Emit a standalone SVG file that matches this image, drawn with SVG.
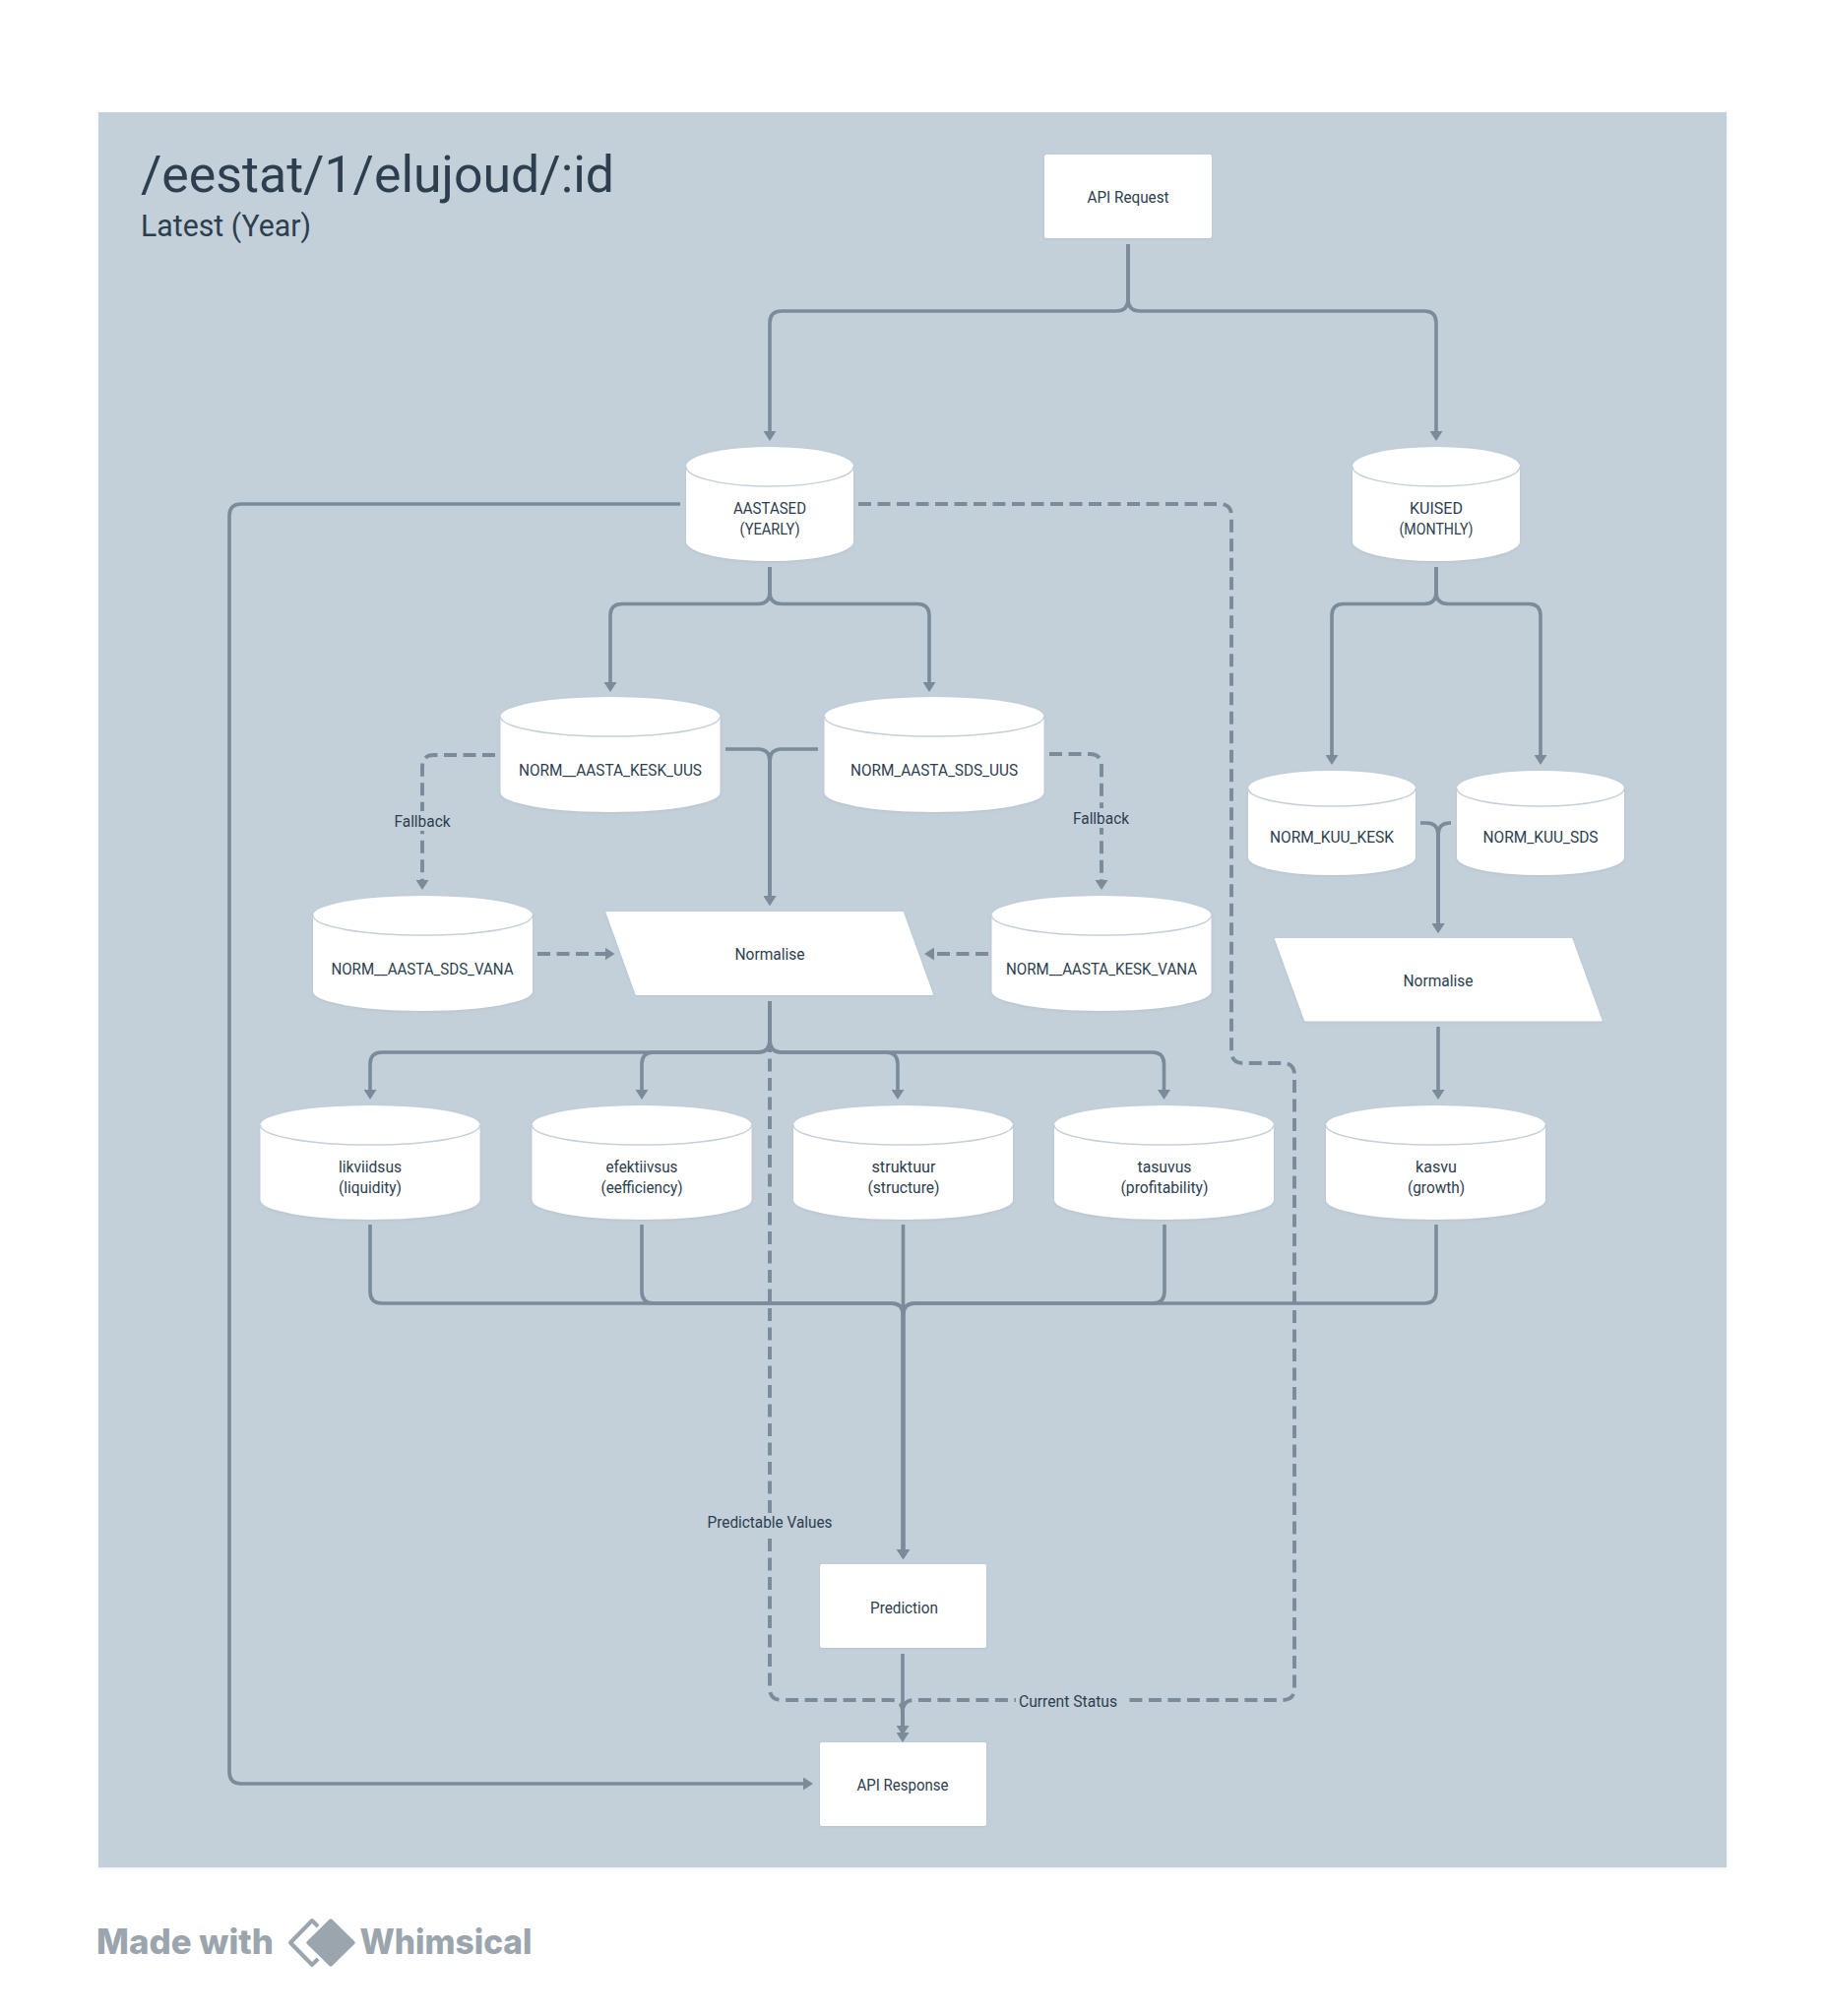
<svg xmlns="http://www.w3.org/2000/svg" width="1854" height="2048" viewBox="0 0 1854 2048">
<style>
text{font-family:Roboto,"Liberation Sans",sans-serif;fill:#2d3e4f;text-anchor:middle;font-size:16px}
.body{fill:#fff}
.seam{fill:none;stroke:#c3d0db;stroke-width:1.5}
.c{fill:none;stroke:#7c8b9a;stroke-width:3.6}
.d{stroke-dasharray:13 6.5;stroke-width:3.9}
.a{marker-end:url(#arr)}
.lb{fill:#c3d0da}
.wm{fill:#9aa5ae;font-family:Inter,"Liberation Sans",sans-serif;font-weight:800;font-size:35px;text-anchor:start}
</style>
<defs>
<filter id="s" x="-5%" y="-5%" width="110%" height="115%"><feDropShadow dx="0" dy="1" stdDeviation="1.5" flood-color="#5b6b7a" flood-opacity="0.14"/></filter>
<marker id="arr" markerUnits="userSpaceOnUse" markerWidth="11" markerHeight="13" refX="5" refY="6.500" orient="auto"><path d="M0 0L10 6.500L0 13Z" fill="#7c8b9a"/></marker>
</defs>
<rect width="1854" height="2048" fill="#fff"/>
<rect id="board" x="100" y="114" width="1654" height="1783" fill="#c3d0da" filter="url(#s)"/>
<g id="title">
<text x="143" y="195" style="text-anchor:start;font-size:52px" textLength="481" lengthAdjust="spacingAndGlyphs">/eestat/1/elujoud/:id</text>
<text x="143" y="240" style="text-anchor:start;font-size:31px" textLength="173" lengthAdjust="spacingAndGlyphs">Latest (Year)</text>
</g>
<g id="connectors">
<path class="c a" d="M1146 248V304Q1146 316 1134 316H794Q782 316 782 328V443"/>
<path class="c a" d="M1146 248V304Q1146 316 1158 316H1447Q1459 316 1459 328V443"/>
<path class="c a" d="M691 512H245Q233 512 233 524V1800Q233 1812 245 1812H821"/>
<path class="c a" d="M782 576V601.500Q782 613.500 770 613.500H632Q620 613.500 620 625.500V698"/>
<path class="c a" d="M782 576V601.500Q782 613.500 794 613.500H932Q944 613.500 944 625.500V698"/>
<path class="c a" d="M1459 576V601.500Q1459 613.500 1447 613.500H1365Q1353 613.500 1353 625.500V772"/>
<path class="c a" d="M1459 576V601.500Q1459 613.500 1471 613.500H1553Q1565 613.500 1565 625.500V772"/>
<path class="c a" d="M737 761H770Q782 761 782 773V915"/>
<path class="c a" d="M831 761H794Q782 761 782 773V915"/>
<path class="c a" d="M1443 836H1449Q1461 836 1461 848V943"/>
<path class="c a" d="M1474 836H1473Q1461 836 1461 848V943"/>
<path class="c a" d="M1461 1043V1112"/>
<path class="c d a" d="M782 1017V1715Q782 1727 794 1727H905Q917 1727 917 1739V1758"/>
<path class="c d" d="M872 512H1239Q1251 512 1251 524V1068Q1251 1080 1263 1080H1303Q1315 1080 1315 1092V1715Q1315 1727 1303 1727H929Q917 1727 917 1739V1750"/>
<path class="c d a" d="M503 767H441Q429 767 429 779V899"/>
<path class="c d a" d="M1066 766H1107Q1119 766 1119 778V899"/>
<path class="c d a" d="M546 969H619.500"/>
<path class="c d a" d="M1004 969H944"/>
<path class="c a" d="M782 1017V1057Q782 1069 770 1069H388Q376 1069 376 1081V1112"/>
<path class="c a" d="M782 1017V1057Q782 1069 770 1069H664Q652 1069 652 1081V1112"/>
<path class="c a" d="M782 1017V1057Q782 1069 794 1069H900Q912 1069 912 1081V1112"/>
<path class="c a" d="M782 1017V1057Q782 1069 794 1069H1170.500Q1182.500 1069 1182.500 1081V1112"/>
<path class="c a" d="M376 1244V1312Q376 1324 388 1324H905.500Q917.500 1324 917.500 1336V1579"/>
<path class="c a" d="M652 1244V1312Q652 1324 664 1324H905.500Q917.500 1324 917.500 1336V1579"/>
<path class="c a" d="M917.500 1244V1579"/>
<path class="c a" d="M1183 1244V1312Q1183 1324 1171 1324H929.500Q917.500 1324 917.500 1336V1579"/>
<path class="c a" d="M1459 1244V1312Q1459 1324 1447 1324H929.500Q917.500 1324 917.500 1336V1579"/>
<path class="c a" d="M917 1680V1765"/>
</g>
<g id="connector-labels">
<rect class="lb" x="395" y="824" width="68" height="20"/><text x="429" y="839.500" textLength="57" lengthAdjust="spacingAndGlyphs">Fallback</text>
<rect class="lb" x="1085" y="821" width="68" height="20"/><text x="1118.500" y="837" textLength="57" lengthAdjust="spacingAndGlyphs">Fallback</text>
<rect class="lb" x="714" y="1537" width="136" height="20"/><text x="782" y="1552" textLength="127" lengthAdjust="spacingAndGlyphs">Predictable Values</text>
<rect class="lb" x="1032" y="1718" width="114" height="20"/><text x="1085" y="1733.500" textLength="100" lengthAdjust="spacingAndGlyphs">Current Status</text>
</g>
<g id="api-request"><rect class="body" x="1061" y="157" width="170" height="85" rx="2" filter="url(#s)"/><text x="1146" y="205.500" textLength="83" lengthAdjust="spacingAndGlyphs">API Request</text></g>
<g id="aastased"><path class="body" filter="url(#s)" d="M697 474A85 20 0 0 1 867 474V550A85 20 0 0 1 697 550Z"/><path class="seam" d="M697 474A85 20 0 0 0 867 474"/><text x="782" y="522" textLength="74" lengthAdjust="spacingAndGlyphs">AASTASED</text><text x="782" y="543" textLength="61" lengthAdjust="spacingAndGlyphs">(YEARLY)</text></g>
<g id="kuised"><path class="body" filter="url(#s)" d="M1374 474A85 20 0 0 1 1544 474V550A85 20 0 0 1 1374 550Z"/><path class="seam" d="M1374 474A85 20 0 0 0 1544 474"/><text x="1459" y="522" textLength="54" lengthAdjust="spacingAndGlyphs">KUISED</text><text x="1459" y="543" textLength="75" lengthAdjust="spacingAndGlyphs">(MONTHLY)</text></g>
<g id="kesk-uus"><path class="body" filter="url(#s)" d="M508.500 728A111.500 20 0 0 1 731.500 728V805A111.500 20 0 0 1 508.500 805Z"/><path class="seam" d="M508.500 728A111.500 20 0 0 0 731.500 728"/><text x="620" y="788" textLength="186" lengthAdjust="spacingAndGlyphs">NORM__AASTA_KESK_UUS</text></g>
<g id="sds-uus"><path class="body" filter="url(#s)" d="M837.500 728A111.500 20 0 0 1 1060.500 728V805A111.500 20 0 0 1 837.500 805Z"/><path class="seam" d="M837.500 728A111.500 20 0 0 0 1060.500 728"/><text x="949" y="788" textLength="170" lengthAdjust="spacingAndGlyphs">NORM_AASTA_SDS_UUS</text></g>
<g id="kuu-kesk"><path class="body" filter="url(#s)" d="M1268 801A85 18 0 0 1 1438 801V871A85 18 0 0 1 1268 871Z"/><path class="seam" d="M1268 801A85 18 0 0 0 1438 801"/><text x="1353" y="856" textLength="126" lengthAdjust="spacingAndGlyphs">NORM_KUU_KESK</text></g>
<g id="kuu-sds"><path class="body" filter="url(#s)" d="M1480 801A85 18 0 0 1 1650 801V871A85 18 0 0 1 1480 871Z"/><path class="seam" d="M1480 801A85 18 0 0 0 1650 801"/><text x="1565" y="856" textLength="117" lengthAdjust="spacingAndGlyphs">NORM_KUU_SDS</text></g>
<g id="sds-vana"><path class="body" filter="url(#s)" d="M318 930A111.500 20 0 0 1 541 930V1007A111.500 20 0 0 1 318 1007Z"/><path class="seam" d="M318 930A111.500 20 0 0 0 541 930"/><text x="429" y="989.500" textLength="185" lengthAdjust="spacingAndGlyphs">NORM__AASTA_SDS_VANA</text></g>
<g id="kesk-vana"><path class="body" filter="url(#s)" d="M1007.500 930A111.500 20 0 0 1 1230.500 930V1007A111.500 20 0 0 1 1007.500 1007Z"/><path class="seam" d="M1007.500 930A111.500 20 0 0 0 1230.500 930"/><text x="1119" y="989.500" textLength="194" lengthAdjust="spacingAndGlyphs">NORM__AASTA_KESK_VANA</text></g>
<g id="normalise-1"><path class="body" filter="url(#s)" stroke="#fff" stroke-width="2" stroke-linejoin="round" d="M616.500 927H917L947 1010H646.500Z"/><text x="782" y="975" textLength="71" lengthAdjust="spacingAndGlyphs">Normalise</text></g>
<g id="normalise-2"><path class="body" filter="url(#s)" stroke="#fff" stroke-width="2" stroke-linejoin="round" d="M1296 954H1596.500L1626.500 1036.500H1326Z"/><text x="1461" y="1002" textLength="71" lengthAdjust="spacingAndGlyphs">Normalise</text></g>
<g id="likviidsus"><path class="body" filter="url(#s)" d="M264.500 1143A111.500 20 0 0 1 487.500 1143V1219A111.500 20 0 0 1 264.500 1219Z"/><path class="seam" d="M264.500 1143A111.500 20 0 0 0 487.500 1143"/><text x="376" y="1191" textLength="64" lengthAdjust="spacingAndGlyphs">likviidsus</text><text x="376" y="1212" textLength="64" lengthAdjust="spacingAndGlyphs">(liquidity)</text></g>
<g id="efektiivsus"><path class="body" filter="url(#s)" d="M540.500 1143A111.500 20 0 0 1 763.500 1143V1219A111.500 20 0 0 1 540.500 1219Z"/><path class="seam" d="M540.500 1143A111.500 20 0 0 0 763.500 1143"/><text x="652" y="1191" textLength="73" lengthAdjust="spacingAndGlyphs">efektiivsus</text><text x="652" y="1212" textLength="83" lengthAdjust="spacingAndGlyphs">(eefficiency)</text></g>
<g id="struktuur"><path class="body" filter="url(#s)" d="M806 1143A111.500 20 0 0 1 1029 1143V1219A111.500 20 0 0 1 806 1219Z"/><path class="seam" d="M806 1143A111.500 20 0 0 0 1029 1143"/><text x="918" y="1191" textLength="65" lengthAdjust="spacingAndGlyphs">struktuur</text><text x="918" y="1212" textLength="73" lengthAdjust="spacingAndGlyphs">(structure)</text></g>
<g id="tasuvus"><path class="body" filter="url(#s)" d="M1071 1143A111.500 20 0 0 1 1294 1143V1219A111.500 20 0 0 1 1071 1219Z"/><path class="seam" d="M1071 1143A111.500 20 0 0 0 1294 1143"/><text x="1183" y="1191" textLength="55" lengthAdjust="spacingAndGlyphs">tasuvus</text><text x="1183" y="1212" textLength="89" lengthAdjust="spacingAndGlyphs">(profitability)</text></g>
<g id="kasvu"><path class="body" filter="url(#s)" d="M1347 1143A111.500 20 0 0 1 1570 1143V1219A111.500 20 0 0 1 1347 1219Z"/><path class="seam" d="M1347 1143A111.500 20 0 0 0 1570 1143"/><text x="1459" y="1191" textLength="42" lengthAdjust="spacingAndGlyphs">kasvu</text><text x="1459" y="1212" textLength="58" lengthAdjust="spacingAndGlyphs">(growth)</text></g>
<g id="prediction"><rect class="body" x="833" y="1589" width="169" height="85" rx="2" filter="url(#s)"/><text x="918.500" y="1638.500" textLength="69" lengthAdjust="spacingAndGlyphs">Prediction</text></g>
<g id="api-response"><rect class="body" x="833" y="1770" width="169" height="85" rx="2" filter="url(#s)"/><text x="917" y="1818.500" textLength="93" lengthAdjust="spacingAndGlyphs">API Response</text></g>
<g id="watermark">
<text class="wm" x="98" y="1985" textLength="180" lengthAdjust="spacingAndGlyphs">Made with</text>
<path d="M323 1957L317 1951L295 1973.500L317 1996L323 1990" fill="none" stroke="#9aa5ae" stroke-width="4" stroke-linejoin="round"/>
<path d="M336 1951L359 1973.500L336 1996L313 1973.500Z" fill="#9aa5ae" stroke="#9aa5ae" stroke-width="3.500" stroke-linejoin="round"/>
<text class="wm" x="365.500" y="1985" textLength="175" lengthAdjust="spacingAndGlyphs">Whimsical</text>
</g>
</svg>
